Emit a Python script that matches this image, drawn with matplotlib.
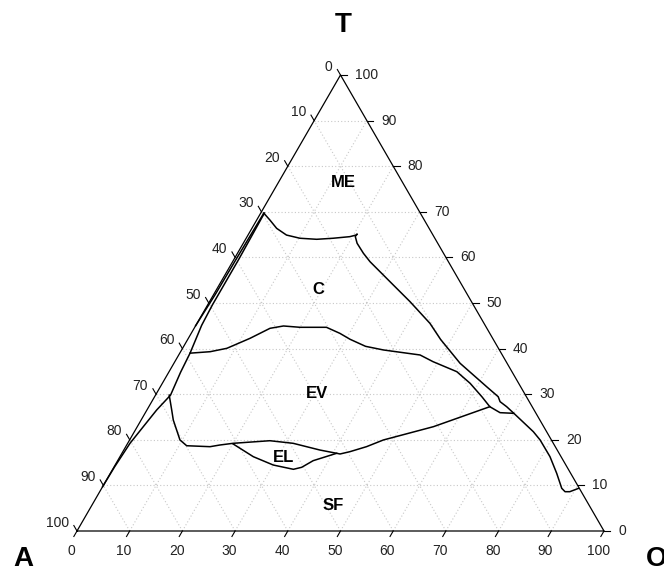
import numpy as np
import matplotlib
matplotlib.use("Agg")
import matplotlib.pyplot as plt

plt.rcParams['font.family'] = ['Liberation Sans', 'DejaVu Sans']

# ternary data: each boundary given as (T fraction, O fraction) pairs, A = 1 - T - O
ticks = [0, 10, 20, 30, 40, 50, 60, 70, 80, 90, 100]

me_c_t = [0.697, 0.682, 0.6637, 0.649, 0.642, 0.6397, 0.642, 0.6455, 0.649, 0.6506]
me_c_o = [0.006, 0.025, 0.047, 0.073, 0.102, 0.135, 0.165, 0.195, 0.205, 0.206]

right_t = [0.6506, 0.646, 0.631, 0.609, 0.5906, 0.5467, 0.5029, 0.4554, 0.4200, 0.3678, 0.3165,
           0.2945, 0.2836, 0.2726, 0.2559, 0.2178, 0.1996, 0.163, 0.1265, 0.0936, 0.0862,
           0.0862, 0.0936]
right_o = [0.206, 0.205, 0.216, 0.239, 0.2607, 0.3206, 0.3805, 0.442, 0.480, 0.543, 0.619,
           0.652, 0.661, 0.679, 0.703, 0.757, 0.779, 0.816, 0.847, 0.873, 0.883,
           0.892, 0.905]

left_t = [0.697, 0.598, 0.496, 0.451, 0.390, 0.348, 0.298, 0.2654, 0.2288, 0.1923, 0.141, 0.097]
left_o = [0.007, 0.009, 0.009, 0.011, 0.0195, 0.0225, 0.0285, 0.0185, 0.0114, 0.0044, 0.001, 0.0]

edge_t = [0.697, 0.598, 0.520, 0.450]
edge_o = [0.006, 0.004, 0.003, 0.0]

ev_top_t = [0.390, 0.3932, 0.4006, 0.4225, 0.4445, 0.4496, 0.4467, 0.4467, 0.4335, 0.4204,
            0.405, 0.397, 0.386, 0.3713, 0.3494, 0.3239, 0.2945, 0.2726, 0.2595, 0.2581]
ev_top_o = [0.0195, 0.056, 0.084, 0.117, 0.144, 0.167, 0.200, 0.250, 0.282, 0.308,
            0.345, 0.383, 0.458, 0.490, 0.546, 0.584, 0.621, 0.647, 0.673, 0.699]

ev_bot_t = [0.2726, 0.2288, 0.1996, 0.185, 0.174, 0.1689, 0.1704, 0.1776, 0.1923, 0.198, 0.1923,
            0.1886, 0.1849, 0.187, 0.1996, 0.2434, 0.2654, 0.298]
ev_bot_o = [0.647, 0.562, 0.4815, 0.457, 0.431, 0.4147, 0.4075, 0.372, 0.314, 0.267, 0.200,
            0.177, 0.160, 0.1146, 0.0956, 0.061, 0.047, 0.026]

el_t = [0.1908, 0.163, 0.1447, 0.1353, 0.1397, 0.1542, 0.1704]
el_o = [0.201, 0.253, 0.300, 0.343, 0.3565, 0.371, 0.4075]

regions = ['ME', 'C', 'EV', 'EL', 'SF']
region_x = [0.505, 0.458, 0.4548, 0.3914, 0.4864]
region_y = [0.661, 0.458, 0.2605, 0.1389, 0.0493]

H = np.sqrt(3) / 2


def tern(t, o):
    t = np.asarray(t, dtype=float)
    o = np.asarray(o, dtype=float)
    return o + t / 2, t * H


fig = plt.figure(figsize=(6.64, 5.71), dpi=100)
ax = fig.add_axes([77 / 664, 40 / 571, 527 / 664, 456 / 571])
ax.set_xlim(0, 1)
ax.set_ylim(0, H)
ax.axis('off')

# dotted grid
gkw = dict(color='#c8c8c8', lw=0.8, ls=(0, (1, 2)), zorder=1)
for k in np.arange(0.1, 1.0, 0.1):
    x, y = tern([k, k], [0, 1 - k])          # constant T
    ax.plot(x, y, **gkw)
    x, y = tern([0, 1 - k], [k, k])          # constant O
    ax.plot(x, y, **gkw)
    x, y = tern([0, 1 - k], [1 - k, 0])      # constant A
    ax.plot(x, y, **gkw)

# triangle frame
x, y = tern([0, 0, 1, 0], [0, 1, 0, 0])
ax.plot(x, y, color='black', lw=0.9, zorder=3, clip_on=False)

L = 0.012
for v in ticks:
    f = v / 100
    # bottom axis (O)
    x, y = tern(0, f)
    ax.plot([x, x - 0.5 * L], [y, y - H * L], color='black', lw=0.8, clip_on=False)
    ax.text(x - 0.011, y - 0.038, str(v), ha='center', va='center', fontsize=10, color='#222222')
    # right axis (T)
    x, y = tern(f, 1 - f)
    ax.plot([x, x + L], [y, y], color='black', lw=0.8, clip_on=False)
    ax.text(x + 0.0275, y, str(v), ha='left', va='center', fontsize=10, color='#222222')
    # left axis (A)
    x, y = tern(1 - f, 0)
    ax.plot([x, x - 0.5 * L], [y, y + H * L], color='black', lw=0.8, clip_on=False)
    ax.text(x - 0.015, y + 0.016, str(v), ha='right', va='center', fontsize=10, color='#222222')

# phase boundaries
ckw = dict(color='black', lw=1.1, zorder=4, clip_on=False)
for tt, oo in [(me_c_t, me_c_o), (right_t, right_o), (left_t, left_o), (edge_t, edge_o),
               (ev_top_t, ev_top_o), (ev_bot_t, ev_bot_o), (el_t, el_o)]:
    x, y = tern(tt, oo)
    ax.plot(x, y, **ckw)

for name, rx, ry in zip(regions, region_x, region_y):
    ax.text(rx, ry, name, ha='center', va='center', fontsize=12, fontweight='bold')

ax.text(0.505, 0.961, 'T', ha='center', va='center', fontsize=20, fontweight='bold')
ax.text(-0.1025, -0.053, 'A', ha='center', va='center', fontsize=20, fontweight='bold')
ax.text(1.1006, -0.053, 'O', ha='center', va='center', fontsize=20, fontweight='bold')

fig.savefig('out.png', dpi=100)
